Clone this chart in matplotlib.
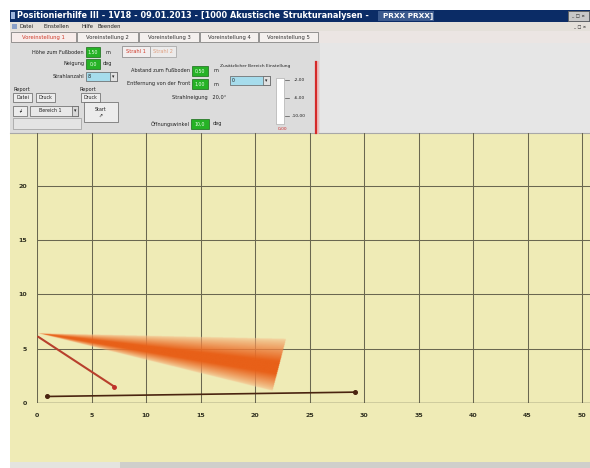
import matplotlib.pyplot as plt
import numpy as np
from matplotlib.patches import Rectangle

W, H = 590, 468

# ---- chart data ----
x_ticks = [0, 5, 10, 15, 20, 25, 30, 35, 40, 45, 50]
y_ticks = [0, 5, 10, 15, 20]
x_max, y_max = 50.73, 24.84

floor_x = [0.9, 29.2]          # floor line with end dots
floor_y = [0.6, 1.0]
beam_x = [0.1, 7.1]            # red beam
beam_y = [6.1, 1.5]

fan_apex = (0.0, 6.4)          # spray fan
fan_end_top = (22.8, 5.9)
fan_end_mid = (22.4, 3.1)
fan_end_bot = (21.5, 0.9)

# ---- GUI texts ----
title_main = "Positionierhilfe III - 1V18 - 09.01.2013 - [1000 Akustische Strukturanalysen - "
title_tail = "PRXX PRXX]"
menu_items = [("Datei", 20), ("Einstellen", 44), ("Hilfe", 82), ("Beenden", 98)]
tabs = [("Voreinstellung 1", 11, 65), ("Voreinstellung 2", 77, 61),
        ("Voreinstellung 3", 139, 60), ("Voreinstellung 4", 200, 58),
        ("Voreinstellung 5", 259, 59)]

fig = plt.figure(figsize=(W / 100, H / 100), dpi=100)
fig.patch.set_facecolor("white")

# background axes in pixel coordinates (GUI chrome)
bg = fig.add_axes([0, 0, 1, 1], zorder=0)
bg.set_xlim(0, W)
bg.set_ylim(H, 0)
bg.axis("off")


def box(x, y, w, h, fc, ec="none", lw=0.6, z=1):
    bg.add_patch(Rectangle((x, y), w, h, facecolor=fc, edgecolor=ec,
                           linewidth=lw, zorder=z))


def txt(x, y, s, size=3.6, color="#202020", ha="left", weight="normal", z=3):
    return bg.text(x, y, s, fontsize=size, color=color, ha=ha, va="center",
                   fontweight=weight, zorder=z)


# window areas
box(10, 133, 580, 330, "#efebb6")           # chart area
box(10, 462, 580, 6, "#cfcfcb")
box(10, 462, 110, 6, "#e4e4df")
box(10, 43, 310, 90, "#dcdcdc")            # control panel
box(320, 43, 270, 90, "#e6e6e6")
bg.plot([10, 590], [133, 133], color="#a8a8a8", lw=0.8, zorder=2)

# title bar
box(10, 10, 580, 12, "#0b2c66")
box(11, 12, 4, 7, "#9cb4dc")
txt(17, 16, title_main, size=5.9, color="white", weight="bold")
txt(433, 16, title_tail, size=5.3, color="white", weight="bold", ha="right")
box(378, 11, 56, 10, "#3b5a8e")
box(568, 11, 21, 10, "#c8c8c8", ec="#606060")
txt(578, 16, "_ □ ×", size=3.2, ha="center", weight="bold")

# menu bar
box(10, 22, 580, 9, "#e4e0da")
box(12, 24, 5, 5, "#8aa0c8")
for name, x in menu_items:
    txt(x, 26.5, name, size=3.8)
txt(580, 27, "_ □ ×", size=3.0, ha="center", weight="bold")

# tab strip
box(10, 31, 580, 12, "#ebe5e3")
for i, (name, x, w) in enumerate(tabs):
    box(x, 32, w, 10, "#f4f0ee" if i else "#f7ecea", ec="#707070", lw=0.5, z=2)
    txt(x + w / 2, 37, name, size=3.8, ha="center",
        color="#d03a2a" if i == 0 else "#303030")


# left controls
def green(x, y, w, s):
    box(x, y, w, 10, "#26b226", ec="#1a6a1a", lw=0.5, z=2)
    txt(x + w / 2, y + 5, s, size=3.4, ha="center", color="#e8ffe8")


def combo(x, y, w, s):
    box(x, y, w, 9, "#a6dcec", ec="#606060", lw=0.5, z=2)
    box(x + w - 7, y, 7, 9, "#e0e0e0", ec="#606060", lw=0.5, z=2)
    txt(x + w - 3.5, y + 4.5, "▾", size=3.4, ha="center")
    txt(x + 2, y + 4.5, s, size=3.4)


def button(x, y, w, h, s):
    box(x, y, w, h, "#ececec", ec="#606060", lw=0.5, z=2)
    txt(x + w / 2, y + h / 2, s, size=3.4, ha="center")


txt(84, 52, "Höhe zum Fußboden", ha="right")
green(86, 47, 14, "1,50")
txt(105, 52, "m")
txt(84, 64, "Neigung", ha="right")
green(86, 59, 14, "0,0")
txt(103, 64, "deg")
txt(84, 77, "Strahlanzahl", ha="right")
combo(86, 72, 31, "8")
txt(13, 89, "Report")
txt(80, 89, "Report")
button(13, 93, 19, 9, "Datei")
button(36, 93, 19, 9, "Druck")
button(81, 93, 19, 9, "Druck")
button(13, 106, 14, 10, "↲")
box(30, 106, 48, 10, "#e8e8e8", ec="#606060", lw=0.5, z=2)
txt(50, 111, "Bereich 1", size=3.4, ha="center")
box(72, 106, 6, 10, "#d8d8d8", ec="#606060", lw=0.5, z=2)
txt(75, 111, "▾", size=3.4, ha="center")
button(84, 102, 34, 20, "Start\n⇗")
box(13, 118, 68, 11, "#e4e4e4", ec="#9a9a9a", lw=0.5, z=2)

# beam sub-panel
box(122, 46, 28, 11, "#f2eeee", ec="#808080", lw=0.5, z=2)
txt(136, 51.5, "Strahl 1", ha="center", color="#d03a2a")
box(150, 46, 26, 11, "#ecebeb", ec="#a0a0a0", lw=0.5, z=2)
txt(163, 51.5, "Strahl 2", ha="center", color="#e0a080")
txt(190, 71, "Abstand zum Fußboden", ha="right")
green(192, 66, 16, "0,50")
txt(214, 71, "m")
txt(190, 84, "Entfernung von der Front", ha="right")
green(192, 79, 16, "1,00")
txt(214, 84, "m")
txt(172, 98, "Strahlneigung   20,0°")
txt(190, 124, "Öffnungswinkel", ha="right")
green(191, 119, 18, "10,0")
txt(213, 124, "deg")
txt(220, 66, "Zusätzlicher Bereich Einstellung", size=3.2)
combo(230, 76, 40, "0")
box(276, 78, 8, 46, "white", ec="#b0b0b0", lw=0.5, z=2)
for yy, lab in [(80, "-2,00"), (98, "-6,00"), (116, "-10,00")]:
    bg.plot([285, 289], [yy, yy], color="#505050", lw=0.5, zorder=3)
    txt(299, yy, lab, size=3.2, ha="center")
txt(283, 129, "0,00", size=3.2, ha="center", color="#d03030")
bg.plot([318, 318], [62, 133], color="#f2b8b8", lw=1.2, zorder=3)
bg.plot([315.5, 315.5], [62, 133], color="#d42a2a", lw=1.6, zorder=4)

# ---- the chart ----
left, top, right, bottom = 37, 133, 590, 403
ax = fig.add_axes([left / W, (H - bottom) / H, (right - left) / W,
                   (bottom - top) / H], zorder=2)
ax.set_facecolor("none")
ax.set_xlim(0, x_max)
ax.set_ylim(0, y_max)
grid_c = "#6a6750"
for xv in x_ticks:
    ax.axvline(xv, color=grid_c, lw=0.75, zorder=1)
for yv in y_ticks[1:]:
    ax.axhline(yv, color=grid_c, lw=0.75, zorder=1)
ax.axhline(0, color="#505040", lw=1.0, zorder=1)
for s in ax.spines.values():
    s.set_visible(False)
ax.set_xticks(x_ticks)
ax.set_yticks(y_ticks)
ax.tick_params(length=0, labelsize=4.5, labelcolor="#303020", pad=7)
for lab in ax.get_xticklabels() + ax.get_yticklabels():
    lab.set_fontweight("bold")

# spray fan as a gradient image
gx = np.linspace(0, 23.5, 470)
gy = np.linspace(0, 7.5, 300)
X, Y = np.meshgrid(gx, gy)
ax0, ay0 = fan_apex
t = np.clip(X / fan_end_mid[0], 0, None)
yc = ay0 + (fan_end_mid[1] - ay0) * t
yt = ay0 + (fan_end_top[1] - ay0) * t
yb = ay0 + (fan_end_bot[1] - ay0) * t
d = np.where(Y >= yc, (Y - yc) / np.maximum(yt - yc, 1e-6),
             (yc - Y) / np.maximum(yc - yb, 1e-6))
x_end = fan_end_bot[0] + (Y - fan_end_bot[1]) / (fan_end_top[1] - fan_end_bot[1]) \
    * (fan_end_top[0] - fan_end_bot[0])
inside = (d <= 1) & (X <= x_end) & (X >= 0)
w = np.clip(1.3 * (1 - d), 0, 1) ** 0.6
core = np.array([232, 96, 24]) / 255
edge = np.array([248, 200, 150]) / 255
rgba = np.zeros(X.shape + (4,))
for k in range(3):
    rgba[..., k] = edge[k] + (core[k] - edge[k]) * w
rgba[..., 3] = np.where(inside, 0.45 + 0.55 * w, 0)
ax.imshow(rgba, extent=(gx[0], gx[-1], gy[0], gy[-1]), origin="lower",
          aspect="auto", interpolation="bilinear", zorder=3)

ax.plot(beam_x, beam_y, color="#b8402c", lw=1.5, zorder=4,
        solid_capstyle="round")
ax.plot(beam_x[-1:], beam_y[-1:], "o", color="#c0302a", ms=2.5, zorder=4)
ax.plot(floor_x, floor_y, color="#4a2410", lw=1.2, marker="o", ms=2.6,
        zorder=5)

fig.savefig("out.png", dpi=100)
